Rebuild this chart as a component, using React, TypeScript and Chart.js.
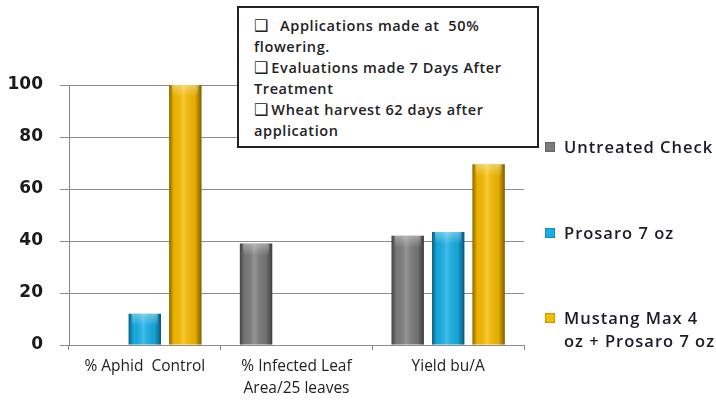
import React, { useEffect, useRef } from "react";
import { Chart, registerables } from "chart.js";

Chart.register(...registerables);

const categories: (string | string[])[] = [
  "% Aphid  Control",
  ["% Infected Leaf", "Area/25 leaves"],
  "Yield bu/A",
];
const seriesNames: string[][] = [
  ["Untreated Check"],
  ["Prosaro 7 oz"],
  ["Mustang Max 4", "oz + Prosaro 7 oz"],
];
const untreated = [0, 39, 42];
const prosaro = [12, 0, 43.5];
const mustang = [100, 0, 69.5];
const seriesColors = ["#7c7c7c", "#16b0e8", "#f9bc00"];
const yMin = 0;
const yMax = 100;
const yStep = 20;
const notes = [
  ["❑", "  Applications made at  50%"],
  ["", "flowering."],
  ["❑", "Evaluations made 7 Days After"],
  ["", "Treatment"],
  ["❑", "Wheat harvest 62 days after"],
  ["", "application"],
];

const gridPlugin = {
  id: "ygrid",
  beforeDatasetsDraw(chart: any) {
    const ctx = chart.ctx;
    const y = chart.scales.y;
    const area = chart.chartArea;
    ctx.save();
    ctx.strokeStyle = "#8c8c8c";
    ctx.lineWidth = 1;
    y.ticks.forEach((t: any) => {
      const py = Math.round(y.getPixelForValue(t.value)) + 0.5;
      ctx.beginPath();
      ctx.moveTo(area.left, py);
      ctx.lineTo(area.right, py);
      ctx.stroke();
    });
    ctx.restore();
  },
};

const shadePlugin = {
  id: "shade",
  afterDatasetsDraw(chart: any) {
    const ctx = chart.ctx;
    chart.data.datasets.forEach((_d: any, i: number) => {
      const meta = chart.getDatasetMeta(i);
      meta.data.forEach((bar: any) => {
        const { x, y, base, width } = bar.getProps(["x", "y", "base", "width"], true);
        const h = base - y;
        if (h < 1) return;
        const left = x - width / 2;
        const g = ctx.createLinearGradient(left, 0, left + width, 0);
        g.addColorStop(0, "rgba(0,0,0,0.45)");
        g.addColorStop(0.15, "rgba(0,0,0,0.05)");
        g.addColorStop(0.45, "rgba(255,255,255,0.18)");
        g.addColorStop(0.8, "rgba(0,0,0,0.08)");
        g.addColorStop(1, "rgba(0,0,0,0.5)");
        ctx.save();
        ctx.fillStyle = g;
        ctx.fillRect(left, y, width, h);
        const r = Math.min(6, h / 2);
        const tg = ctx.createLinearGradient(0, y, 0, y + r * 2);
        tg.addColorStop(0, "rgba(255,255,255,0.35)");
        tg.addColorStop(1, "rgba(255,255,255,0)");
        ctx.fillStyle = tg;
        ctx.fillRect(left + 3, y, width - 6, r * 2);
        ctx.restore();
      });
    });
  },
};

export default function App() {
  const ref = useRef<HTMLCanvasElement>(null);
  useEffect(() => {
    document.body.style.margin = "0";
    const chart = new Chart(ref.current!, {
      type: "bar",
      data: {
        labels: categories,
        datasets: [untreated, prosaro, mustang].map((d, i) => ({
          label: seriesNames[i].join(" "),
          data: d,
          backgroundColor: seriesColors[i],
          borderWidth: 0,
          categoryPercentage: 0.8,
          barPercentage: 0.8,
        })),
      },
      options: {
        animation: false,
        responsive: false,
        layout: { padding: { left: 7, right: 192, top: 85, bottom: 2 } },
        plugins: { legend: { display: false }, tooltip: { enabled: false } },
        scales: {
          x: {
            afterFit: (scale: any) => {
              scale.height = 53;
            },
            grid: {
              drawOnChartArea: false,
              drawTicks: true,
              tickLength: 5,
              color: "#888",
            },
            border: { color: "#888", width: 1 },
            ticks: {
              color: "#222",
              font: { family: "Open Sans", size: 15.5, lineHeight: 1.38 },
              padding: 6,
              maxRotation: 0,
            },
          },
          y: {
            min: yMin,
            max: yMax,
            afterFit: (scale: any) => {
              scale.width = 62;
            },
            grid: {
              display: true,
              drawOnChartArea: true,
              color: "#8a8a8a",
              lineWidth: 1,
              tickLength: 9,
            },
            border: { color: "#888", width: 1 },
            ticks: {
              stepSize: yStep,
              color: "#1a1a1a",
              font: { family: "DejaVu Sans", size: 17, weight: "bold" },
              padding: 17,
            },
          },
        },
      },
      plugins: [gridPlugin, shadePlugin],
    });
    return () => chart.destroy();
  }, []);

  const legendTops = [135, 221, 306];
  return (
    <div style={{ position: "relative", width: 716, height: 400, background: "#fff" }}>
      <canvas ref={ref} width={716} height={400} style={{ position: "absolute", left: 0, top: 0 }} />
      <div
        style={{
          position: "absolute",
          left: 237,
          top: 6,
          width: 302,
          height: 142,
          border: "2px solid #222",
          background: "#fff",
          fontFamily: "Open Sans",
          fontSize: 14.5,
          fontWeight: 600,
          letterSpacing: 0.6,
          color: "#222",
          lineHeight: "21px",
          padding: "7px 0 0 15px",
          boxSizing: "border-box",
          whiteSpace: "pre",
        }}
      >
        {notes.map((n, i) => (
          <div key={i}>
            {n[0] && (
              <span style={{ fontFamily: "DejaVu Sans", fontSize: 16, letterSpacing: 0, marginRight: 3 }}>
                {n[0]}
              </span>
            )}
            {n[1]}
          </div>
        ))}
      </div>
      {seriesNames.map((lines, i) => (
        <div
          key={i}
          style={{
            position: "absolute",
            left: 545,
            top: legendTops[i],
            fontFamily: "Open Sans",
            fontSize: 16.5,
            fontWeight: 600,
            letterSpacing: 1,
            color: "#1b1b2a",
            lineHeight: "23px",
            display: "flex",
          }}
        >
          <div
            style={{
              width: 10,
              height: 10,
              marginTop: 7,
              marginRight: 9,
              background: seriesColors[i],
              boxShadow: "inset 0 0 2px rgba(0,0,0,0.6)",
            }}
          />
          <div>
            {lines.map((l, j) => (
              <div key={j}>{l}</div>
            ))}
          </div>
        </div>
      ))}
    </div>
  );
}
